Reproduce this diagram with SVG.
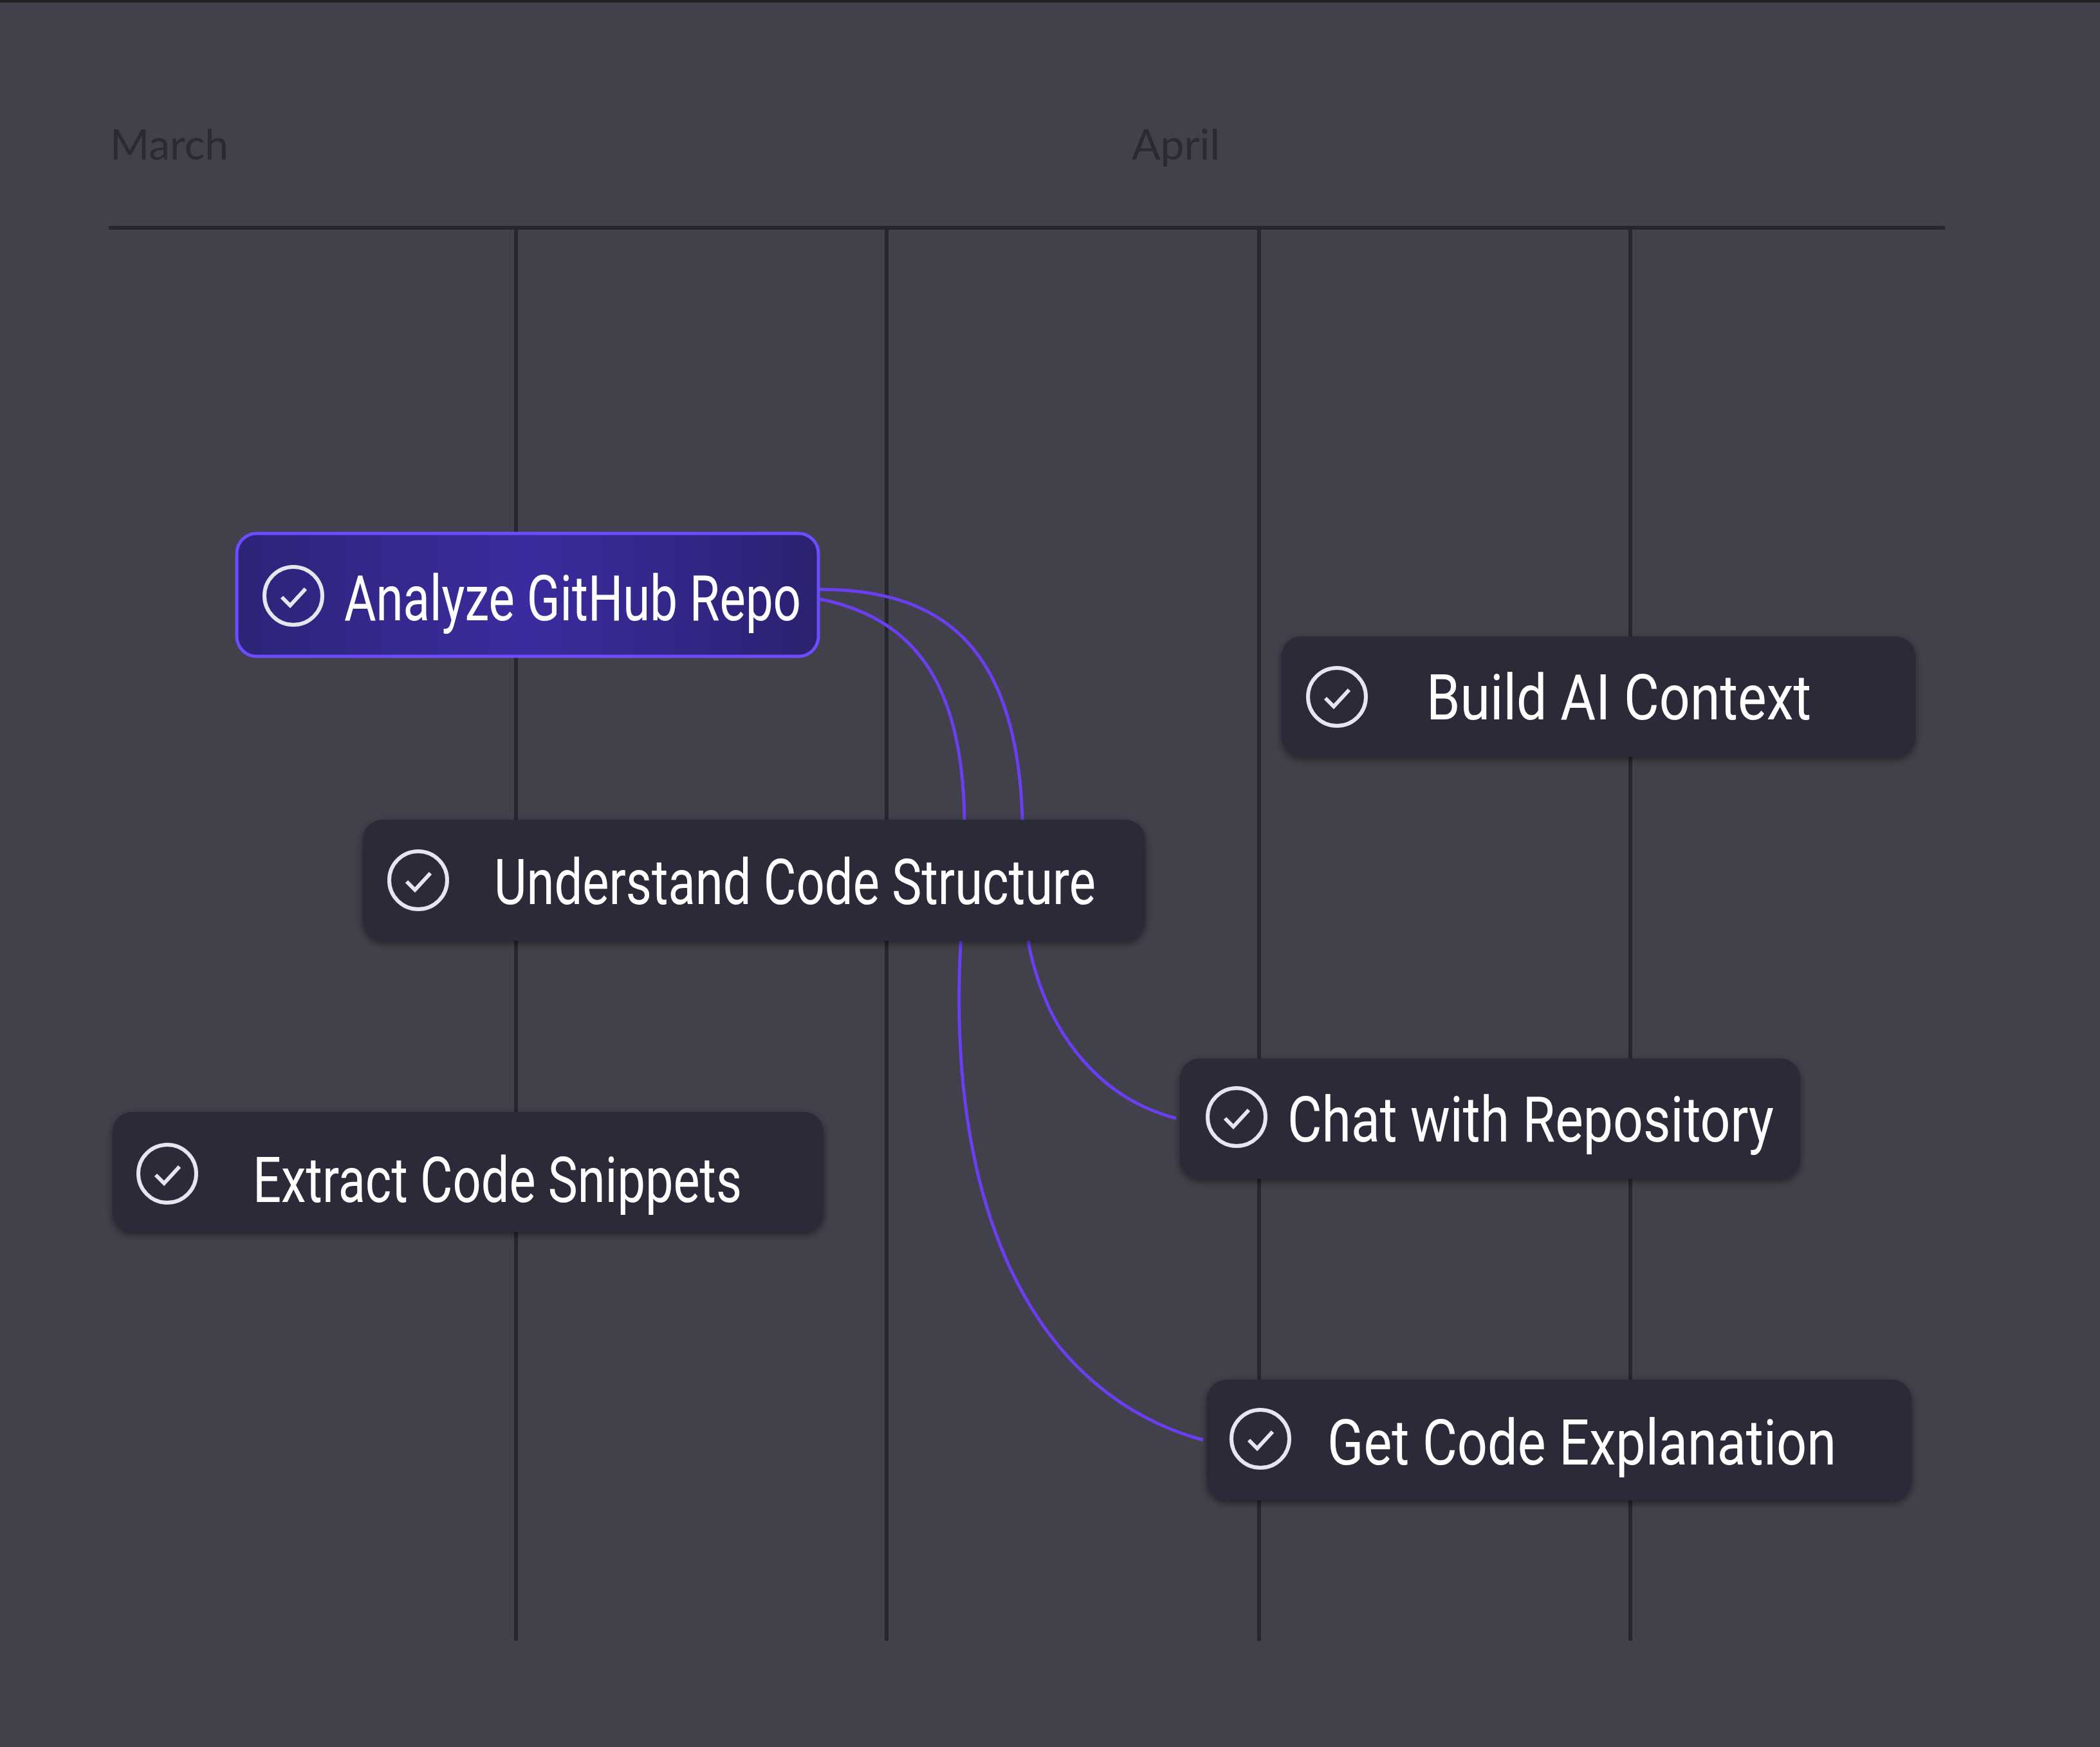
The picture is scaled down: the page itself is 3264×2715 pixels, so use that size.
<svg xmlns="http://www.w3.org/2000/svg" width="3264" height="2715" viewBox="0 0 3264 2715">
<style>
.lbl{font-family:Roboto,"Liberation Sans",sans-serif;font-size:98px;fill:#ffffff}
.mon{font-family:Lato,"Liberation Sans",sans-serif;font-size:66px;fill:#2a2a33}
.node{fill:#2a2a37;filter:url(#sh)}
.ic{fill:none;stroke:#e6e6ee;stroke-width:6}
.grid{stroke:#26262e;stroke-width:6}
.con{fill:none;stroke:#6b3ff0;stroke-width:5}
</style>
<defs>
<filter id="sh" x="-10%" y="-30%" width="120%" height="160%"><feGaussianBlur in="SourceAlpha" stdDeviation="6"/><feOffset dy="4"/><feComponentTransfer><feFuncA type="linear" slope="0.5"/></feComponentTransfer><feMerge><feMergeNode/><feMergeNode in="SourceGraphic"/></feMerge></filter>
<linearGradient id="pg" x1="0" y1="0" x2="1" y2="0"><stop offset="0" stop-color="#2c2478"/><stop offset="0.5" stop-color="#3a2c9e"/><stop offset="1" stop-color="#2a2170"/></linearGradient>
<g id="chk"><circle r="45" class="ic"/><path d="M-18,2 L-5,15 L19,-11" class="ic"/></g>
</defs>
<rect width="3264" height="2715" fill="#41414b"/>
<line x1="0" y1="2" x2="3264" y2="2" stroke="#222" stroke-width="4"/>
<g id="timeline">
<text x="171" y="248" class="mon">March</text>
<text x="1759" y="248" class="mon">April</text>
<line x1="169" y1="354" x2="3023" y2="354" class="grid"/>
<line x1="802" y1="354" x2="802" y2="2550" class="grid"/>
<line x1="1378" y1="354" x2="1378" y2="2550" class="grid"/>
<line x1="1957" y1="354" x2="1957" y2="2550" class="grid"/>
<line x1="2534" y1="354" x2="2534" y2="2550" class="grid"/>
</g>
<g id="connectors">
<path class="con" d="M1274,916 C1460,916 1580,1000 1589,1270 L1599,1468 C1630,1620 1720,1710 1828,1738"/>
<path class="con" d="M1274,931 C1420,960 1495,1060 1499,1270 L1493,1468 C1470,1900 1620,2170 1870,2238"/>
</g>
<g id="analyze">
<rect x="368" y="829" width="904" height="191" rx="31" fill="url(#pg)" stroke="#6d4cff" stroke-width="5"/>
<use href="#chk" x="456" y="926"/>
<text x="535" y="964" class="lbl" textLength="710" lengthAdjust="spacingAndGlyphs">Analyze GitHub Repo</text>
</g>
<g id="build">
<rect x="1992" y="989" width="985" height="187" rx="31" class="node"/>
<use href="#chk" x="2078" y="1083"/>
<text x="2217" y="1118" class="lbl" textLength="598" lengthAdjust="spacingAndGlyphs">Build AI Context</text>
</g>
<g id="understand">
<rect x="564" y="1274" width="1216" height="188" rx="31" class="node"/>
<use href="#chk" x="650" y="1368"/>
<text x="768" y="1405" class="lbl" textLength="935" lengthAdjust="spacingAndGlyphs">Understand Code Structure</text>
</g>
<g id="extract">
<rect x="175" y="1728" width="1105" height="187" rx="31" class="node"/>
<use href="#chk" x="260" y="1824"/>
<text x="393" y="1868" class="lbl" textLength="760" lengthAdjust="spacingAndGlyphs">Extract Code Snippets</text>
</g>
<g id="chat">
<rect x="1834" y="1645" width="964" height="187" rx="31" class="node"/>
<use href="#chk" x="1922" y="1736"/>
<text x="2001" y="1774" class="lbl" textLength="756" lengthAdjust="spacingAndGlyphs">Chat with Repository</text>
</g>
<g id="explain">
<rect x="1876" y="2144" width="1095" height="188" rx="31" class="node"/>
<use href="#chk" x="1959" y="2236"/>
<text x="2063" y="2276" class="lbl" textLength="791" lengthAdjust="spacingAndGlyphs">Get Code Explanation</text>
</g>
</svg>
